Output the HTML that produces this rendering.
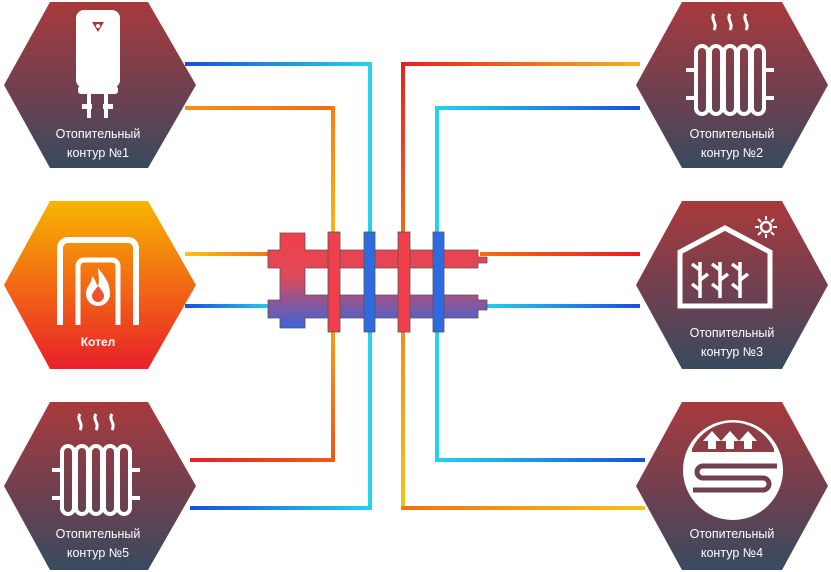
<!DOCTYPE html><html><head><style>body{margin:0;background:#fff}svg{display:block}text{font-family:"Liberation Sans",sans-serif;fill:#fff;font-size:12.5px;text-anchor:middle}</style></head><body>
<svg width="831" height="572" viewBox="0 0 831 572">
<defs>
<linearGradient id="hx" x1="0" y1="0" x2="0" y2="1"><stop offset="0" stop-color="#a83a3c"/><stop offset="0.55" stop-color="#6e4050"/><stop offset="1" stop-color="#384a5e"/></linearGradient>
<linearGradient id="kt" x1="0" y1="0" x2="0" y2="1"><stop offset="0" stop-color="#f7b500"/><stop offset="0.5" stop-color="#f26a14"/><stop offset="1" stop-color="#e8202a"/></linearGradient>
<linearGradient id="mf" x1="0" y1="0" x2="0" y2="1"><stop offset="0" stop-color="#f2404a"/><stop offset="0.45" stop-color="#e04858"/><stop offset="1" stop-color="#3a64d8"/></linearGradient>
<linearGradient id="bc" x1="0" y1="0" x2="1" y2="0"><stop offset="0" stop-color="#1a4ee0"/><stop offset="1" stop-color="#22d4ea"/></linearGradient>
<linearGradient id="cb" x1="0" y1="0" x2="1" y2="0"><stop offset="0" stop-color="#22d4ea"/><stop offset="1" stop-color="#1a4ee0"/></linearGradient>
<linearGradient id="or" x1="0" y1="0" x2="1" y2="0"><stop offset="0" stop-color="#f7901a"/><stop offset="1" stop-color="#f26a14"/></linearGradient>
<linearGradient id="yo" x1="0" y1="0" x2="1" y2="0"><stop offset="0" stop-color="#f6c21a"/><stop offset="1" stop-color="#f37010"/></linearGradient>
<linearGradient id="oy" x1="0" y1="0" x2="1" y2="0"><stop offset="0" stop-color="#f37010"/><stop offset="1" stop-color="#f6c21a"/></linearGradient>
<linearGradient id="ro" x1="0" y1="0" x2="1" y2="0"><stop offset="0" stop-color="#e8202a"/><stop offset="1" stop-color="#f25a18"/></linearGradient>
<linearGradient id="rr" x1="0" y1="0" x2="1" y2="0"><stop offset="0" stop-color="#f37010"/><stop offset="1" stop-color="#e81c24"/></linearGradient>
<linearGradient id="ry" x1="0" y1="0" x2="1" y2="0"><stop offset="0" stop-color="#e82020"/><stop offset="1" stop-color="#f6b21a"/></linearGradient>
<linearGradient id="vr" x1="0" y1="0" x2="0" y2="1"><stop offset="0" stop-color="#e82020"/><stop offset="0.5" stop-color="#f08020"/><stop offset="1" stop-color="#f6c21a"/></linearGradient>
<linearGradient id="vo" x1="0" y1="0" x2="0" y2="1"><stop offset="0" stop-color="#ff7a10"/><stop offset="0.45" stop-color="#f6c21a"/><stop offset="1" stop-color="#f25018"/></linearGradient>
</defs>
<!-- left side pipes -->
<rect x="185" y="62" width="187" height="4" fill="url(#bc)"/>
<rect x="368" y="62" width="4" height="448" fill="#22d4ea"/>
<rect x="190" y="506" width="182" height="4" fill="url(#bc)"/>
<rect x="185" y="106" width="150" height="4" fill="url(#or)"/>
<rect x="331" y="106" width="4" height="356" fill="url(#vo)"/>
<rect x="190" y="458" width="145" height="4" fill="url(#ro)"/>
<rect x="185" y="252" width="90" height="4" fill="url(#yo)"/>
<rect x="185" y="304" width="90" height="4" fill="url(#bc)"/>
<!-- right side -->
<rect x="401" y="62" width="239" height="4" fill="url(#ry)"/>
<rect x="401" y="62" width="4" height="448" fill="url(#vr)"/>
<rect x="401" y="506" width="244" height="4" fill="url(#oy)"/>
<rect x="435" y="106" width="205" height="4" fill="url(#cb)"/>
<rect x="435" y="106" width="4" height="356" fill="#22d4ea"/>
<rect x="435" y="458" width="210" height="4" fill="url(#cb)"/>
<rect x="480" y="252" width="160" height="4" fill="url(#rr)"/>
<rect x="480" y="304" width="160" height="4" fill="url(#cb)"/>
<!-- manifold -->
<g stroke="#555" stroke-width="0.8">
<path d="M280 233H305V250H478V257H487V263H478V268H305V295H478V300H487V310H478V318H305V328H280V318H268V300H280V268H268V250H280Z" fill="url(#mf)"/>
<rect x="328" y="232" width="12" height="100" fill="#f0404c"/>
<rect x="364" y="232" width="11" height="100" fill="#2e6ae0"/>
<rect x="398" y="232" width="12" height="100" fill="#f0404c"/>
<rect x="433" y="232" width="11" height="100" fill="#2e6ae0"/>
</g>
<!-- hexagons -->
<polygon points="50,2 148,2 196,85 148,168 50,168 4,85" fill="url(#hx)"/>
<polygon points="50,201 148,201 196,285 148,369 50,369 4,285" fill="url(#kt)"/>
<polygon points="50,402 148,402 196,486 148,570 50,570 4,486" fill="url(#hx)"/>
<polygon points="682,2 782,2 828,85 782,168 682,168 636,85" fill="url(#hx)"/>
<polygon points="682,201 782,201 828,285 782,369 682,369 636,285" fill="url(#hx)"/>
<polygon points="682,402 782,402 828,486 782,570 682,570 636,486" fill="url(#hx)"/>
<!-- boiler -->
<g fill="#fff">
<rect x="76" y="10" width="44" height="78" rx="8"/>
<rect x="78" y="86" width="40" height="8" rx="3"/>
<rect x="87" y="94" width="4" height="24"/><rect x="104" y="94" width="4" height="24"/>
<rect x="82" y="104" width="10" height="5"/><rect x="103" y="104" width="10" height="5"/>
<path d="M92 22h12l-6 10z" fill="#a83a3c"/><circle cx="98" cy="26" r="2" fill="#fff"/>
</g>
<!-- kotel icon -->
<g fill="none" stroke="#fff" stroke-width="6">
<path d="M60 325V248a8 8 0 0 1 8-8h60a8 8 0 0 1 8 8v77"/>
<path d="M78 325V266a6 6 0 0 1 6-6h28a6 6 0 0 1 6 6v59" stroke-width="5"/>
</g>
<path d="M98 268c8 10 12 16 12 26a12 12 0 0 1-24 0c0-8 6-10 6-18 4 4 4 8 6 10 2-6 0-12 0-18z" fill="#fff"/>
<path d="M98 286c4 4 6 8 6 10a6 6 0 0 1-12 0c0-3 3-6 6-10z" fill="#f0502a"/>
<!-- radiators -->
<g fill="none" stroke="#fff" stroke-width="4">
<rect x="696" y="46" width="12" height="68" rx="6"/><rect x="710" y="46" width="12" height="68" rx="6"/><rect x="724" y="46" width="12" height="68" rx="6"/><rect x="738" y="46" width="12" height="68" rx="6"/><rect x="752" y="46" width="12" height="68" rx="6"/>
<path d="M686 70h10M764 70h10M686 98h10M764 98h10"/>
<path d="M714 14c-4 6 4 9 0 16 M730 14c-4 6 4 9 0 16 M746 14c-4 6 4 9 0 16" stroke-width="3"/>
</g>
<g fill="none" stroke="#fff" stroke-width="4" transform="translate(-634,400)">
<rect x="696" y="46" width="12" height="68" rx="6"/><rect x="710" y="46" width="12" height="68" rx="6"/><rect x="724" y="46" width="12" height="68" rx="6"/><rect x="738" y="46" width="12" height="68" rx="6"/><rect x="752" y="46" width="12" height="68" rx="6"/>
<path d="M686 70h10M764 70h10M686 98h10M764 98h10"/>
<path d="M714 14c-4 6 4 9 0 16 M730 14c-4 6 4 9 0 16 M746 14c-4 6 4 9 0 16" stroke-width="3"/>
</g>
<!-- greenhouse -->
<path d="M680 306V252l45-24 45 24v54z" fill="none" stroke="#fff" stroke-width="5"/>
<g stroke="#fff" stroke-width="3.5" fill="none"><path d="M700 298v-36M720 298v-36M740 298v-36"/>
<path d="M700 270l-8-6M700 280l8-6M700 290l-8-6M720 270l-8-6M720 280l8-6M720 290l-8-6M740 270l-8-6M740 280l8-6M740 290l-8-6"/>
<circle cx="766" cy="227" r="5" stroke-width="2.5"/><path d="M766 216v4M766 234v4M755 227h4M773 227h4M758 219l3 3M771 232l3 3M774 219l-3 3M761 232l-3 3" stroke-width="2"/></g>
<!-- floor heating -->
<circle cx="733" cy="470" r="50" fill="#fff"/>
<path d="M692 449a45 45 0 0 1 82 0v3h-82z" fill="#8e3c46"/>
<g fill="#fff"><path d="M708 449v-8h-5l9-10 9 10h-5v8zM726 449v-8h-5l9-10 9 10h-5v8zM744 449v-8h-5l9-10 9 10h-5v8z"/></g>
<path d="M777 466H703a6 6 0 0 0 0 12h60a6 6 0 0 1 0 12H693" fill="none" stroke="#6e4050" stroke-width="5"/>
<!-- labels -->
<text x="98" y="138">Отопительный</text><text x="98" y="157">контур  №1</text>
<text x="98" y="346" style="font-weight:bold;font-size:12px">Котел</text>
<text x="98" y="538">Отопительный</text><text x="98" y="557">контур  №5</text>
<text x="732" y="138">Отопительный</text><text x="732" y="157">контур  №2</text>
<text x="732" y="337">Отопительный</text><text x="732" y="356">контур  №3</text>
<text x="732" y="538">Отопительный</text><text x="732" y="557">контур  №4</text>
</svg></body></html>
